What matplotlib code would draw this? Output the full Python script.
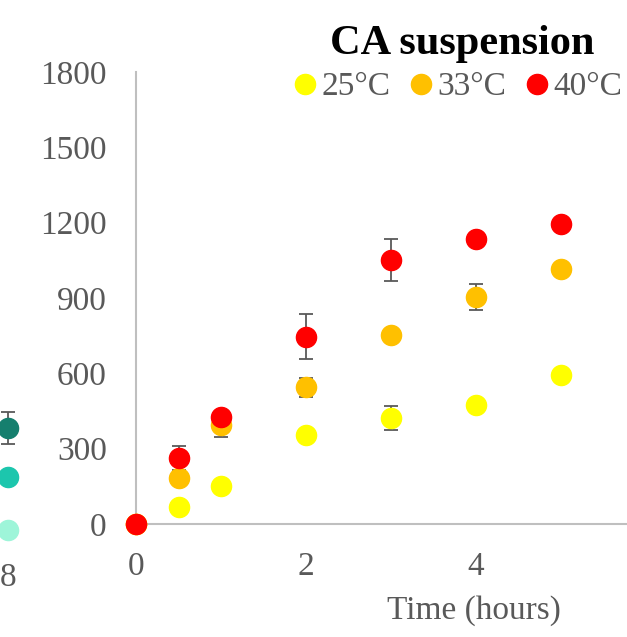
import matplotlib.pyplot as plt

plt.rcParams['font.family'] = ['Liberation Serif', 'DejaVu Serif']

# main chart data
time = [0, 0.5, 1, 2, 3, 4, 5]
t25 = [0, 68, 152, 355, 422, 474, 593]
t33 = [0, 184, 395, 544, 754, 903, 1016]
t40 = [0, 263, 427, 746, 1052, 1135, 1196]
err25 = [0, 0, 0, 0, 46, 0, 0]
err33 = [0, 0, 48, 38, 0, 52, 0]
err40 = [0, 48, 0, 90, 83, 0, 0]
labels = ['25°C', '33°C', '40°C']
colors = ['#ffff00', '#ffc000', '#ff0000']

# partially visible neighbouring chart on the left
left_x = [8, 8, 8]
left_y = [431, 242, 38]
left_err = [62, 0, 0]
left_colors = ['#157f6e', '#1cc6ad', '#9ef5d9']

W, H = 627, 637
fig = plt.figure(figsize=(W / 100, H / 100), dpi=100)


def px(x0, y0, x1, y1):
    # pixel box -> figure fraction [left, bottom, width, height]
    return [x0 / W, 1 - y1 / H, (x1 - x0) / W, (y1 - y0) / H]


gray = '#595959'
axis_gray = '#bfbfbf'

# left fragment
axl = fig.add_axes(px(-391, 72, 33, 540))
axl.set_xlim(0, 8.5)
axl.set_ylim(0, 1800)
for s in axl.spines.values():
    s.set_visible(False)
for xv, yv, e, c in zip(left_x, left_y, left_err, left_colors):
    axl.errorbar([xv], [yv], yerr=[e], fmt='none', ecolor=gray, elinewidth=1.3,
                 capsize=5, capthick=1.3, zorder=1)
    axl.plot([xv], [yv], 'o', color=c, markersize=14.5, zorder=3, clip_on=False)
axl.set_xticks([8])
axl.set_yticks([])
axl.tick_params(axis='x', length=0, pad=16, labelsize=24, labelcolor=gray)

# main chart
ax = fig.add_axes(px(136, 72, 646, 524))
ax.set_xlim(0, 6)
ax.set_ylim(0, 1800)

series = [(t25, err25), (t33, err33), (t40, err40)]
for (vals, errs), lab, c in zip(series, labels, colors):
    ax.errorbar(time, vals, yerr=errs, fmt='none', ecolor=gray, elinewidth=1.3,
                capsize=5, capthick=1.3, zorder=1)
for (vals, errs), lab, c in zip(series, labels, colors):
    ax.plot(time, vals, 'o', color=c, markersize=14.5, label=lab, zorder=3,
            clip_on=False)

for side in ['top', 'right']:
    ax.spines[side].set_visible(False)
for side in ['left', 'bottom']:
    ax.spines[side].set_color(axis_gray)
    ax.spines[side].set_linewidth(1.5)

ax.set_xticks([0, 2, 4])
ax.set_yticks(range(0, 1801, 300))
ax.tick_params(length=0, labelsize=24, labelcolor=gray)
ax.tick_params(axis='y', pad=21)
ax.tick_params(axis='x', pad=20)

fig.text(474 / W, 1 - 611 / H, 'Time (hours)', fontsize=24, color=gray,
         ha='center', va='center')
fig.text(462 / W, 1 - 44 / H, 'CA suspension', fontsize=30.5, fontweight='bold',
         ha='center', va='center')

ax.legend(loc='center left', bbox_to_anchor=(288 / W, 1 - 87 / H),
          bbox_transform=fig.transFigure, ncol=3, frameon=False,
          fontsize=24, labelcolor=gray, handletextpad=0.0, columnspacing=0.42,
          handlelength=1.0, borderpad=0, borderaxespad=0)

fig.savefig('out.png', dpi=100)
